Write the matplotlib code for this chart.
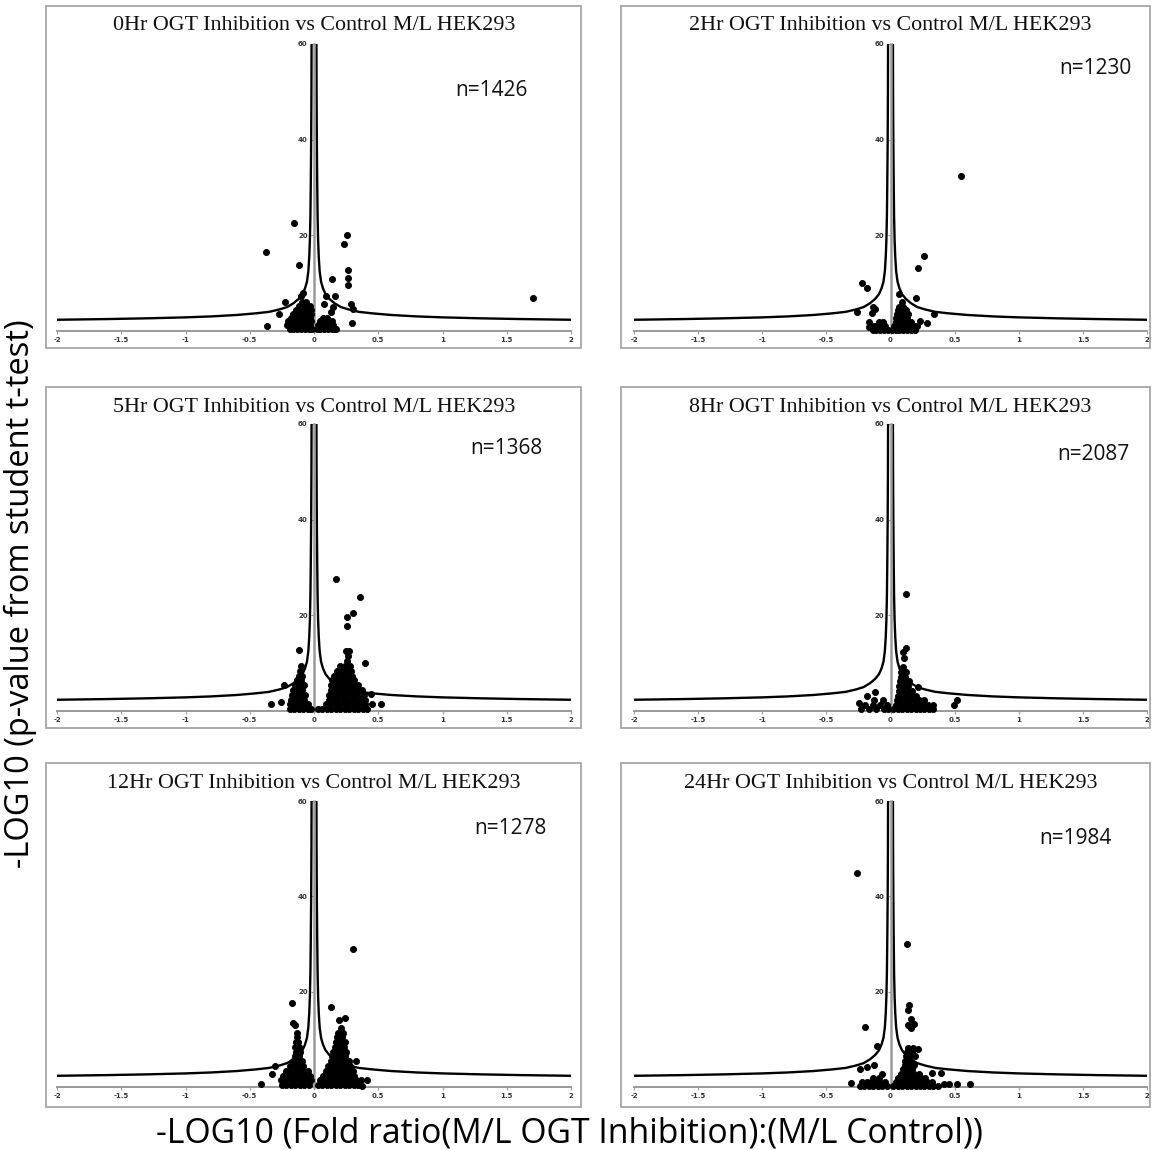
import matplotlib.pyplot as plt
import numpy as np
from matplotlib.patches import Rectangle

W, H = 1152, 1150

times = ["0Hr", "2Hr", "5Hr", "8Hr", "12Hr", "24Hr"]
counts = [1426, 1230, 1368, 2087, 1278, 1984]

# significance threshold curve, right half (left half is its mirror)
curve_x = [0.019, 0.020, 0.022, 0.025, 0.028, 0.032, 0.037, 0.044, 0.055, 0.070,
           0.090, 0.120, 0.160, 0.210, 0.270, 0.350, 0.450, 0.600, 0.800, 1.000,
           1.300, 1.600, 2.000]
curve_y = [60.0, 50.0, 40.0, 31.0, 24.0, 19.0, 15.5, 12.5, 10.3, 8.9,
           7.7, 6.7, 5.8, 5.0, 4.5, 4.0, 3.7, 3.35, 3.05, 2.85,
           2.65, 2.5, 2.35]

# proteins: isolated points (fold, -log10 p)
out_0h = [(-0.155, 22.6), (-0.375, 16.6), (-0.118, 13.7), (0.258, 20.0), (0.23, 18.2),
          (0.266, 12.7), (0.266, 11.1), (0.266, 9.7), (0.138, 10.8), (1.707, 6.9),
          (0.16, 7.4), (0.096, 7.4), (0.286, 5.6), (0.30, 4.7), (0.294, 1.7),
          (-0.364, 1.0), (-0.227, 6.1), (-0.27, 3.6), (-0.105, 7.4), (-0.082, 7.9),
          (0.146, 5.0), (0.132, 4.0), (0.077, 5.7), (0.174, 0.5)]
out_2h = [(0.548, 32.3), (0.26, 15.7), (0.213, 13.1), (-0.219, 10.1), (-0.18, 9.0),
          (0.199, 7.0), (0.067, 7.7), (0.09, 6.1), (-0.136, 5.1), (-0.117, 4.6),
          (-0.145, 3.7), (-0.263, 3.9), (0.337, 3.5), (0.287, 1.6), (0.227, 2.1),
          (-0.166, 1.9), (-0.17, 0.9)]
out_5h = [(0.174, 27.6), (0.36, 23.9), (0.305, 20.5), (0.258, 19.6), (0.258, 17.8),
          (-0.113, 12.7), (-0.099, 9.5), (-0.333, 1.4), (-0.258, 1.9), (-0.236, 5.5),
          (0.523, 1.4), (0.453, 1.5), (0.397, 10.1), (0.44, 3.5)]
out_8h = [(0.12, 24.4), (0.117, 13.2), (0.095, 12.4), (0.108, 11.1), (0.52, 2.3),
          (0.497, 1.3), (-0.186, 3.1), (-0.117, 3.9), (-0.246, 1.6), (0.213, 5.1)]
out_12h = [(0.30, 29.0), (-0.169, 17.6), (0.132, 16.7), (0.244, 14.5), (0.197, 14.1),
           (-0.16, 13.4), (-0.146, 13.1), (0.327, 5.5), (-0.41, 0.7), (-0.30, 4.5),
           (-0.33, 2.8), (0.41, 1.4), (0.37, 0.3)]
out_24h = [(-0.26, 44.8), (0.13, 30.1), (0.147, 17.2), (0.138, 16.2), (-0.2, 12.6),
           (0.163, 14.3), (0.138, 13.1), (0.185, 13.3), (0.158, 12.4), (-0.103, 8.6),
           (0.213, 7.9), (-0.24, 3.8), (-0.18, 4.3), (-0.125, 4.6), (-0.07, 2.8),
           (0.617, 0.7), (0.515, 0.55), (0.46, 0.6), (0.42, 0.55), (-0.31, 0.9),
           (0.39, 3.0), (0.32, 3.0)]

# proteins in the dense core, listed by -log10 p level
rows_0h = {
    0.4: [-0.19, -0.16, -0.13, -0.10, -0.07, -0.04, -0.015, 0.02, 0.05, 0.08, 0.11, 0.14, 0.165],
    1.2: [-0.21, -0.18, -0.15, -0.12, -0.09, -0.06, -0.03, 0.03, 0.06, 0.09, 0.12, 0.15],
    2.0: [-0.20, -0.17, -0.14, -0.11, -0.08, -0.05, -0.02, 0.05, 0.08, 0.11, 0.14],
    2.8: [-0.18, -0.15, -0.12, -0.09, -0.06, -0.03, 0.07, 0.10],
    3.6: [-0.16, -0.13, -0.10, -0.07, -0.04, -0.02],
    4.4: [-0.14, -0.11, -0.08, -0.05, -0.025],
    5.2: [-0.12, -0.09, -0.06, -0.035],
    6.0: [-0.09, -0.06],
}
rows_2h = {
    0.3: [-0.14, -0.11, -0.08, -0.05, -0.02, 0.01, 0.04, 0.07, 0.10, 0.13, 0.16, 0.19],
    1.1: [-0.13, -0.10, -0.07, -0.04, 0.03, 0.06, 0.09, 0.12, 0.15, 0.18, 0.21],
    1.9: [-0.09, -0.06, 0.04, 0.07, 0.10, 0.13, 0.16],
    2.7: [0.04, 0.07, 0.10, 0.13],
    3.5: [0.05, 0.08, 0.11, 0.14],
    4.3: [0.06, 0.09, 0.12],
    5.1: [0.07, 0.10],
}
rows_5h = {
    0.4: [-0.19, -0.155, -0.12, -0.085, -0.05, -0.02, 0.03, 0.065, 0.10, 0.135, 0.17,
          0.205, 0.24, 0.275, 0.31, 0.345, 0.38, 0.415],
    1.4: [-0.185, -0.15, -0.115, -0.08, -0.045, 0.09, 0.125, 0.16, 0.195, 0.23, 0.265,
          0.30, 0.335, 0.37, 0.40],
    2.4: [-0.18, -0.145, -0.11, -0.075, 0.12, 0.155, 0.19, 0.225, 0.26, 0.295, 0.33, 0.365, 0.395],
    3.4: [-0.175, -0.14, -0.105, -0.07, 0.12, 0.155, 0.19, 0.225, 0.26, 0.295, 0.33, 0.365, 0.39],
    4.4: [-0.16, -0.125, -0.09, 0.13, 0.165, 0.20, 0.235, 0.27, 0.305, 0.34, 0.375],
    5.4: [-0.15, -0.115, -0.08, 0.135, 0.17, 0.205, 0.24, 0.275, 0.31, 0.345],
    6.4: [-0.13, -0.10, 0.14, 0.175, 0.21, 0.245, 0.28, 0.315],
    7.4: [-0.12, -0.09, 0.155, 0.19, 0.225, 0.26, 0.295],
    8.4: [-0.11, 0.18, 0.215, 0.25, 0.285],
    9.4: [0.20, 0.24, 0.28],
    10.5: [0.255],
    11.5: [0.265],
    12.5: [0.25, 0.275],
}
rows_8h = {
    0.4: [-0.23, -0.17, -0.11, -0.05, -0.02, 0.02, 0.055, 0.09, 0.125, 0.16, 0.195, 0.23,
          0.265, 0.30, 0.335],
    1.2: [-0.20, -0.14, -0.08, -0.03, 0.04, 0.075, 0.11, 0.145, 0.18, 0.215, 0.25, 0.29, 0.33],
    2.2: [-0.13, -0.06, 0.05, 0.085, 0.12, 0.155, 0.19, 0.225, 0.26],
    3.2: [0.06, 0.095, 0.13, 0.165, 0.20],
    4.2: [0.065, 0.10, 0.135, 0.17],
    5.2: [0.07, 0.105, 0.14],
    6.2: [0.075, 0.11, 0.145],
    7.2: [0.08, 0.115],
    8.2: [0.085, 0.12],
    9.2: [0.10],
}
rows_12h = {
    0.4: [-0.25, -0.215, -0.18, -0.145, -0.11, -0.075, -0.04, 0.03, 0.065, 0.10, 0.135,
          0.17, 0.205, 0.24, 0.275, 0.31, 0.345],
    1.4: [-0.26, -0.225, -0.19, -0.155, -0.12, -0.085, -0.05, -0.02, 0.05, 0.085, 0.12,
          0.155, 0.19, 0.225, 0.26, 0.295, 0.33, 0.365],
    2.4: [-0.24, -0.205, -0.17, -0.135, -0.10, -0.065, -0.03, 0.07, 0.105, 0.14, 0.175,
          0.21, 0.245, 0.28, 0.315],
    3.4: [-0.22, -0.185, -0.15, -0.115, -0.08, -0.045, 0.09, 0.125, 0.16, 0.195, 0.23,
          0.265, 0.30],
    4.4: [-0.19, -0.155, -0.12, -0.085, 0.11, 0.145, 0.18, 0.215, 0.25, 0.28],
    5.4: [-0.165, -0.13, -0.095, 0.13, 0.165, 0.20, 0.235, 0.27],
    6.4: [-0.15, -0.115, 0.14, 0.175, 0.21, 0.245],
    7.4: [-0.14, -0.11, 0.15, 0.185, 0.22, 0.25],
    8.4: [-0.15, -0.12, 0.16, 0.195, 0.23],
    9.4: [-0.14, -0.125, 0.17, 0.205, 0.24],
    10.4: [-0.13, 0.18, 0.215],
    11.4: [-0.135, 0.19, 0.225],
    12.4: [0.21],
}
rows_24h = {
    0.3: [-0.24, -0.205, -0.17, -0.135, -0.10, -0.065, -0.03, 0.02, 0.055, 0.09, 0.125,
          0.16, 0.195, 0.23, 0.265, 0.30, 0.335, 0.37],
    1.1: [-0.22, -0.185, -0.15, -0.115, -0.08, -0.045, 0.04, 0.075, 0.11, 0.145, 0.18,
          0.215, 0.25, 0.285, 0.32],
    1.9: [-0.14, -0.09, 0.06, 0.095, 0.13, 0.165, 0.20, 0.235, 0.27],
    2.8: [0.08, 0.115, 0.15, 0.185, 0.22],
    3.7: [0.10, 0.135, 0.17],
    4.6: [0.11, 0.145, 0.18],
    5.5: [0.115, 0.15],
    6.4: [0.12, 0.155, 0.19],
    7.3: [0.13, 0.165],
    8.2: [0.14, 0.175],
}

outliers = [out_0h, out_2h, out_5h, out_8h, out_12h, out_24h]
cores = [rows_0h, rows_2h, rows_5h, rows_8h, rows_12h, rows_24h]

# pixel layout of the six panels
col_px = [(57, 571), (634, 1147)]
row_px = [(331, 44), (711, 424), (1087, 801)]
box_x = [(46, 581), (621, 1150)]
box_y = [(6, 348), (387, 728), (763, 1107)]
title_y = [26, 407, 783]
n_pos = [(491, 90), (1095, 69), (506, 448), (1093, 454), (510, 828), (1075, 838)]

xticks = [-2, -1.5, -1, -0.5, 0, 0.5, 1, 1.5, 2]
xtick_labels = ["-2", "-1.5", "-1", "-0.5", "0", "0.5", "1", "1.5", "2"]
yticks = [20, 40, 60]

fig = plt.figure(figsize=(W / 100, H / 100), dpi=100)


def fx(px):
    return px / W


def fy(py):
    return 1 - py / H


for i, t in enumerate(times):
    r, c = divmod(i, 2)
    x0, x1 = col_px[c]
    y0, y60 = row_px[r]
    bx0, bx1 = box_x[c]
    by0, by1 = box_y[r]

    fig.add_artist(Rectangle((fx(bx0), fy(by1)), fx(bx1 - bx0), (by1 - by0) / H,
                             transform=fig.transFigure, fill=False,
                             ec="#a6a6a6", lw=1.3))
    fig.text(fx((x0 + x1) / 2), fy(title_y[r]),
             f"{t} OGT Inhibition vs Control M/L HEK293",
             family="Liberation Serif", fontsize=15.8, color="#111111",
             ha="center", va="center")

    ax = fig.add_axes([fx(x0), fy(y0), fx(x1 - x0), (y0 - y60) / H])
    ax.set_xlim(-2, 2)
    ax.set_ylim(0, 60)
    ax.patch.set_alpha(0)
    for s in ("top", "right"):
        ax.spines[s].set_visible(False)
    ax.spines["left"].set_position(("data", 0))
    ax.spines["left"].set_color("#9a9a9a")
    ax.spines["left"].set_linewidth(1.8)
    ax.spines["bottom"].set_color("#9a9a9a")
    ax.spines["bottom"].set_linewidth(1.4)
    ax.set_xticks(xticks)
    ax.set_xticklabels(xtick_labels)
    ax.set_yticks(yticks)
    ax.tick_params(axis="both", length=2.5, width=0.8, color="#9a9a9a",
                   labelsize=5, labelcolor="#333333", pad=2)
    for lbl in ax.get_xticklabels() + ax.get_yticklabels():
        lbl.set_fontweight("bold")

    cx = np.array(curve_x)
    cy = np.array(curve_y)
    ax.plot(cx, cy, color="black", lw=1.7, zorder=2, solid_joinstyle="round")
    ax.plot(-cx, cy, color="black", lw=1.7, zorder=2, solid_joinstyle="round")

    px = list(p[0] for p in outliers[i])
    py = list(p[1] for p in outliers[i])
    for yv, xs in cores[i].items():
        px += xs
        py += [yv] * len(xs)
    ax.plot(px, py, "o", ms=4.4, mew=0.6, color="black", mec="black",
            clip_on=False, zorder=3)

    nx, ny = n_pos[i]
    fig.text(fx(nx), fy(ny), f"n={counts[i]}", family="Open Sans",
             fontsize=15, ha="center", va="center", color="#111111")

fig.text(fx(20), fy(594), "-LOG10 (p-value from student t-test)", rotation=90,
         family="Open Sans", fontsize=23.5, ha="center", va="center")
fig.text(fx(569), fy(1134), "-LOG10 (Fold ratio(M/L OGT Inhibition):(M/L Control))",
         family="Open Sans", fontsize=24.3, ha="center", va="center")

fig.savefig("out.png", dpi=100)
